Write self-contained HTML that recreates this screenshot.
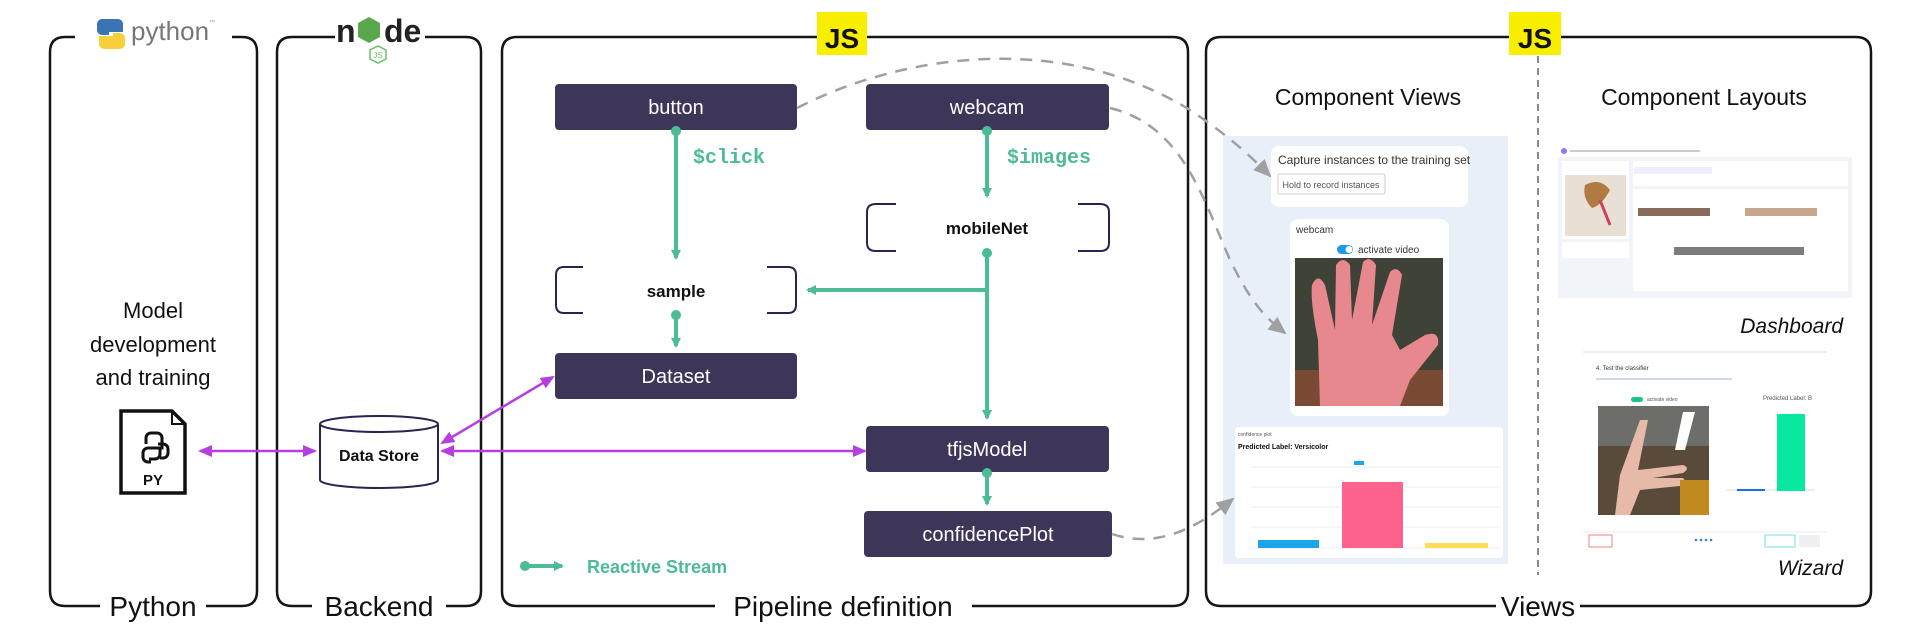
<!DOCTYPE html>
<html><head><meta charset="utf-8"><style>
html,body{margin:0;padding:0;background:#fff;}
svg{display:block;font-family:"Liberation Sans",sans-serif;}
</style></head><body>
<svg width="1920" height="638" viewBox="0 0 1920 638" xmlns="http://www.w3.org/2000/svg">
<defs>
<marker id="ga" markerWidth="10" markerHeight="10" refX="8" refY="5" orient="auto" markerUnits="userSpaceOnUse"><path d="M0,0 L10,5 L0,10 z" fill="#4dbb94"/></marker>
<marker id="pa" markerWidth="14" markerHeight="12" refX="12" refY="6" orient="auto-start-reverse" markerUnits="userSpaceOnUse"><path d="M0,0 L14,6 L0,12 z" fill="#b73fe0"/></marker>
<marker id="da" markerWidth="18" markerHeight="16" refX="16" refY="8" orient="auto" markerUnits="userSpaceOnUse"><path d="M0,0 L18,8 L0,16 z" fill="#a0a0a0"/></marker>
</defs>

<!-- containers -->
<g fill="none" stroke="#151515" stroke-width="2.5">
<path d="M75,37 H65 Q50,37 50,52 V591 Q50,606 65,606 H100 M206,606 H242 Q257,606 257,591 V52 Q257,37 242,37 H232"/>
<path d="M335,37 H292 Q277,37 277,52 V591 Q277,606 292,606 H312 M446,606 H466 Q481,606 481,591 V52 Q481,37 466,37 H425"/>
<path d="M817,37 H517 Q502,37 502,52 V591 Q502,606 517,606 H715 M972,606 H1173 Q1188,606 1188,591 V52 Q1188,37 1173,37 H867"/>
<path d="M1509,37 H1221 Q1206,37 1206,52 V591 Q1206,606 1221,606 H1496 M1580,606 H1856 Q1871,606 1871,591 V52 Q1871,37 1856,37 H1561"/>
</g>
<g font-size="28" fill="#111" text-anchor="middle">
<text x="153" y="616">Python</text>
<text x="379" y="616">Backend</text>
<text x="843" y="616">Pipeline definition</text>
<text x="1538" y="616">Views</text>
</g>

<!-- python logo -->
<g transform="translate(96,17)">
<path d="M12,2 h10 a5,5 0 0 1 5,5 v8 h-14 v3 h-7 a5,5 0 0 1 -5,-5 v-6 a5,5 0 0 1 5,-5z" fill="#3b74b4"/>
<path d="M18,32 h-10 a5,5 0 0 1 -5,-5 v-8 h14 v-3 h7 a5,5 0 0 1 5,5 v6 a5,5 0 0 1 -5,5z" fill="#f6cf3b"/>
</g>
<text x="131" y="40" font-size="26" fill="#777">python</text><text x="209" y="24" font-size="6" fill="#999">™</text>
<!-- node logo -->
<text x="336" y="42" font-size="32" font-weight="bold" fill="#222">n</text>
<polygon points="369,17 380,23 380,37 369,43 358,37 358,23" fill="#5aa84e"/>
<text x="384" y="42" font-size="32" font-weight="bold" fill="#222">de</text>
<polygon points="378,46 386,50 386,59 378,63 370,59 370,50" fill="none" stroke="#6cc16b" stroke-width="1.5"/>
<text x="378" y="58" font-size="8" fill="#6cc16b" text-anchor="middle">JS</text>

<!-- JS badges -->
<rect x="817" y="12" width="50" height="43" fill="#f7ee00"/>
<text x="842" y="48" font-size="28" font-weight="bold" fill="#111" text-anchor="middle">JS</text>
<rect x="1509" y="12" width="52" height="43" fill="#f7ee00"/>
<text x="1535" y="48" font-size="28" font-weight="bold" fill="#111" text-anchor="middle">JS</text>

<!-- python column -->
<g font-size="22" fill="#111" text-anchor="middle">
<text x="153" y="318">Model</text>
<text x="153" y="352">development</text>
<text x="153" y="385">and training</text>
</g>
<path d="M121,411 H172 L185,424 V493 H121 Z" fill="#fff" stroke="#111" stroke-width="3.5"/>
<path d="M172,411 V424 H185" fill="none" stroke="#111" stroke-width="2"/>
<g fill="none" stroke="#111" stroke-width="3">
<path d="M146,444 v-6 a5,5 0 0 1 5,-5 h6 a5,5 0 0 1 5,5 v10 h-14 a5,5 0 0 0 -5,5 v4 a5,5 0 0 0 5,5 h3"/>
<path d="M160,448 v6 a5,5 0 0 1 -5,5 h-6 M158,444 h5 a5,5 0 0 1 5,5 v4 a5,5 0 0 1 -5,5 h-3"/>
</g>
<text x="153" y="485" font-size="15" font-weight="bold" fill="#111" text-anchor="middle">PY</text>

<!-- data store -->
<path d="M320,424 V480 A59,8 0 0 0 438,480 V424" fill="#fff" stroke="#2a2350" stroke-width="2"/>
<ellipse cx="379" cy="424" rx="59" ry="8" fill="#fff" stroke="#2a2350" stroke-width="2"/>
<text x="379" y="461" font-size="16" font-weight="bold" fill="#111" text-anchor="middle">Data Store</text>

<!-- purple arrows -->
<g stroke="#b73fe0" stroke-width="2.5" fill="none">
<line x1="200" y1="451" x2="315" y2="451" marker-start="url(#pa)" marker-end="url(#pa)"/>
<line x1="442" y1="451" x2="865" y2="451" marker-start="url(#pa)" marker-end="url(#pa)"/>
<line x1="442" y1="443" x2="553" y2="377" marker-start="url(#pa)" marker-end="url(#pa)"/>
</g>

<!-- pipeline nodes -->
<g fill="#3e3659">
<rect x="555" y="84" width="242" height="46" rx="4"/>
<rect x="866" y="84" width="243" height="46" rx="4"/>
<rect x="555" y="353" width="242" height="46" rx="4"/>
<rect x="866" y="426" width="243" height="46" rx="4"/>
<rect x="864" y="511" width="248" height="46" rx="4"/>
</g>
<g font-size="20" fill="#fff" text-anchor="middle">
<text x="676" y="114">button</text>
<text x="987" y="114">webcam</text>
<text x="676" y="383">Dataset</text>
<text x="987" y="456">tfjsModel</text>
<text x="988" y="541">confidencePlot</text>
</g>
<g fill="none" stroke="#2a2350" stroke-width="2">
<path d="M583,267 H564 Q556,267 556,275 V305 Q556,313 564,313 H583"/>
<path d="M767,267 H788 Q796,267 796,275 V305 Q796,313 788,313 H767"/>
<path d="M896,204 H876 Q867,204 867,212 V243 Q867,251 876,251 H896"/>
<path d="M1078,204 H1100 Q1109,204 1109,212 V243 Q1109,251 1100,251 H1078"/>
</g>
<g font-size="17" font-weight="bold" fill="#111" text-anchor="middle">
<text x="676" y="297">sample</text>
<text x="987" y="234">mobileNet</text>
</g>

<!-- green streams -->
<g stroke="#4dbb94" stroke-width="4" fill="none">
<line x1="676" y1="132" x2="676" y2="258" marker-end="url(#ga)"/>
<line x1="987" y1="132" x2="987" y2="196" marker-end="url(#ga)"/>
<line x1="987" y1="254" x2="987" y2="418" marker-end="url(#ga)"/>
<line x1="987" y1="290" x2="808" y2="290" marker-end="url(#ga)"/>
<line x1="676" y1="316" x2="676" y2="346" marker-end="url(#ga)"/>
<line x1="987" y1="474" x2="987" y2="504" marker-end="url(#ga)"/>
<line x1="525" y1="566" x2="562" y2="566" marker-end="url(#ga)"/>
</g>
<g fill="#4dbb94">
<circle cx="676" cy="131" r="5"/><circle cx="987" cy="131" r="5"/><circle cx="987" cy="253" r="5"/>
<circle cx="676" cy="315" r="5"/><circle cx="987" cy="473" r="5"/><circle cx="525" cy="566" r="5"/>
</g>
<g font-family="Liberation Mono, monospace" font-size="20" font-weight="bold" fill="#4dbb94">
<text x="693" y="163">$click</text>
<text x="1007" y="163">$images</text>
</g>
<text x="587" y="573" font-size="18" font-weight="bold" fill="#4dbb94">Reactive Stream</text>

<!-- views -->
<g font-size="23" fill="#111" text-anchor="middle">
<text x="1368" y="105">Component Views</text>
<text x="1704" y="105">Component Layouts</text>
</g>
<line x1="1538" y1="56" x2="1538" y2="575" stroke="#888" stroke-width="2" stroke-dasharray="7,5"/>

<rect x="1223" y="136" width="285" height="428" fill="#e9eff8"/>
<rect x="1271" y="146" width="197" height="61" rx="8" fill="#fff"/>
<text x="1278" y="164" font-size="12" fill="#333">Capture instances to the training set</text>
<rect x="1278" y="174" width="107" height="20" rx="2" fill="#fff" stroke="#ccc"/>
<text x="1331" y="188" font-size="9" fill="#555" text-anchor="middle">Hold to record instances</text>
<rect x="1290" y="219" width="159" height="197" rx="8" fill="#fff"/>
<text x="1296" y="233" font-size="10" fill="#333">webcam</text>
<rect x="1337" y="245" width="16" height="9" rx="4.5" fill="#1a9be6"/><circle cx="1349" cy="249.5" r="3.5" fill="#fff"/>
<text x="1358" y="253" font-size="10" fill="#333">activate video</text>
<rect x="1295" y="258" width="148" height="148" fill="#3f4236"/>
<rect x="1295" y="370" width="148" height="36" fill="#7a4a35"/>
<g fill="#e7888f">
<path d="M1320,406 L1318,340 Q1310,300 1312,285 Q1318,272 1325,285 L1335,330 L1336,265 Q1343,255 1350,265 L1352,320 L1363,262 Q1370,255 1376,265 L1372,325 L1390,272 Q1397,265 1402,275 L1392,335 L1400,350 L1425,335 Q1440,330 1438,345 L1410,380 L1400,406 Z"/>
</g>
<rect x="1235" y="427" width="268" height="131" rx="4" fill="#fff"/>
<text x="1238" y="436" font-size="5" fill="#555">confidence plot</text>
<text x="1238" y="449" font-size="7" font-weight="bold" fill="#111">Predicted Label: Versicolor</text>
<rect x="1354" y="461" width="10" height="4" fill="#1ca5ea"/>
<g stroke="#eee" stroke-width="1"><line x1="1251" y1="467" x2="1500" y2="467"/><line x1="1251" y1="487" x2="1500" y2="487"/><line x1="1251" y1="507" x2="1500" y2="507"/><line x1="1251" y1="527" x2="1500" y2="527"/><line x1="1251" y1="548" x2="1500" y2="548"/></g>
<rect x="1258" y="540" width="61" height="8" fill="#1ca5ea"/>
<rect x="1342" y="482" width="61" height="66" fill="#fd628d"/>
<rect x="1425" y="543" width="63" height="5" fill="#fedc5a"/>

<!-- dashed curves (on top) -->
<g stroke="#a0a0a0" stroke-width="2.5" fill="none" stroke-dasharray="12,9">
<path d="M797,108 C900,55 1060,30 1190,110 C1220,130 1245,150 1270,176" marker-end="url(#da)"/>
<path d="M1110,108 C1180,125 1200,190 1230,260 C1250,300 1262,315 1285,333" marker-end="url(#da)"/>
<path d="M1112,534 C1160,550 1200,525 1233,499" marker-end="url(#da)"/>
</g>

<!-- dashboard -->
<circle cx="1564" cy="151" r="3" fill="#8a7cf0"/>
<rect x="1570" y="150" width="130" height="2" fill="#ccc"/>
<rect x="1558" y="157" width="294" height="141" fill="#f1f4f8"/>
<rect x="1562" y="161" width="67" height="78" fill="#fff"/>
<rect x="1565" y="175" width="61" height="61" fill="#e8dfd5"/>
<path d="M1585,185 q15,-8 25,5 q-8,15 -18,18 q-10,-10 -7,-23z" fill="#b07a43"/>
<path d="M1600,200 l10,25" stroke="#d04050" stroke-width="3"/>
<rect x="1562" y="242" width="67" height="16" fill="#fff"/>
<rect x="1633" y="161" width="215" height="25" fill="#fff"/>
<rect x="1634" y="167" width="78" height="7" fill="#eef"/>
<rect x="1633" y="189" width="215" height="102" fill="#fff"/>
<g fill="#8a6a5a"><rect x="1638" y="208" width="72" height="8"/><rect x="1745" y="208" width="72" height="8" fill="#c7a68e"/><rect x="1674" y="247" width="130" height="8" fill="#7c7c7c"/></g>
<text x="1843" y="333" font-size="21" font-style="italic" fill="#111" text-anchor="end">Dashboard</text>

<!-- wizard -->
<line x1="1583" y1="352" x2="1827" y2="352" stroke="#ddd"/>
<text x="1596" y="370" font-size="6" fill="#333">4. Test the classifier</text>
<rect x="1596" y="378" width="136" height="2" fill="#cfd8e8"/>
<rect x="1631" y="397" width="12" height="5" rx="2.5" fill="#1fc48a"/>
<text x="1647" y="401" font-size="5" fill="#555">activate video</text>
<text x="1763" y="400" font-size="6" fill="#555">Predicted Label: B</text>
<rect x="1598" y="406" width="111" height="109" fill="#5a4a3a"/>
<rect x="1598" y="406" width="111" height="40" fill="#6d6d6a"/>
<path d="M1640,420 l8,0 l-10,50 l45,-5 q8,3 0,8 l-30,5 l30,0 q5,5 -3,8 l-40,4 l-10,25 l-15,0 l5,-40z" fill="#e7b9a8"/>
<polygon points="1683,412 1695,412 1685,450 1675,450" fill="#fff"/>
<rect x="1680" y="480" width="29" height="35" fill="#c08a20"/>
<line x1="1727" y1="490" x2="1815" y2="490" stroke="#ddd"/>
<rect x="1737" y="489" width="28" height="2" fill="#1a6ee6"/>
<rect x="1777" y="414" width="28" height="77" fill="#08e8a0"/>
<line x1="1583" y1="532" x2="1827" y2="532" stroke="#eee"/>
<rect x="1589" y="535" width="23" height="12" fill="#fff" stroke="#f08080"/>
<rect x="1765" y="535" width="30" height="12" fill="#fff" stroke="#7dd"/>
<rect x="1799" y="535" width="21" height="12" fill="#eef0f3"/>
<g fill="#3a7be6"><circle cx="1696" cy="540" r="1.3"/><circle cx="1701" cy="540" r="1.3"/><circle cx="1706" cy="540" r="1.3"/><circle cx="1711" cy="540" r="1.3"/></g>
<text x="1843" y="575" font-size="21" font-style="italic" fill="#111" text-anchor="end">Wizard</text>
</svg>
</body></html>
